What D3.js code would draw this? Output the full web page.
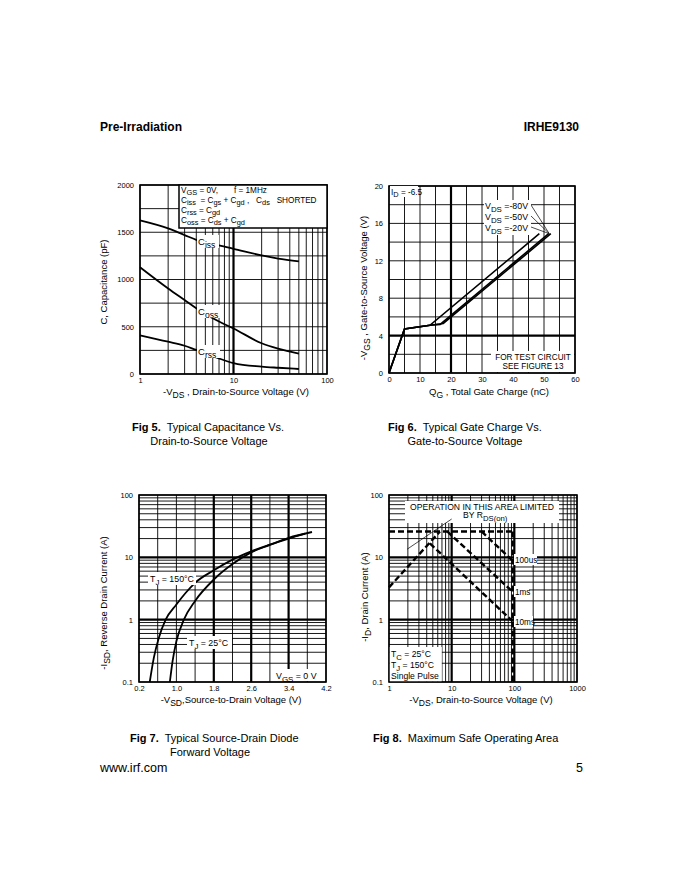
<!DOCTYPE html>
<html>
<head>
<meta charset="utf-8">
<script src="https://cdn.jsdelivr.net/npm/d3@7"></script>
<style>
  body { margin: 0; background: #fff; }
  svg { font-family: "Liberation Sans", Arial, sans-serif; }
  text { white-space: pre; }
</style>
</head>
<body>
<svg id="page" width="680" height="880"></svg>
<script>
// ---- Fig 5: capacitance vs VDS
var capV    = [1, 2, 3, 4, 5, 7, 10, 20, 30, 50];
var capCiss = [1625, 1540, 1470, 1420, 1390, 1360, 1325, 1255, 1222, 1192];
var capCoss = [1130, 905, 782, 695, 635, 555, 482, 325, 268, 215];
var capCrss = [410, 342, 299, 255, 222, 165, 115, 78, 66, 53];
var capXTicks = [1, 10, 100];
var capYTicks = [0, 500, 1000, 1500, 2000];

// ---- Fig 6: gate charge
var gateQ80 = [0, 5, 13.2, 48.5];
var gateV80 = [0, 4.7, 5.1, 14.9];
var gateQ50 = [0, 5, 13.2, 16.5, 51.5];
var gateV50 = [0, 4.7, 5.1, 5.2, 14.9];
var gateQ20 = [0, 5, 13.2, 17.5, 52.2];
var gateV20 = [0, 4.7, 5.1, 5.3, 14.9];
var gateXTicks = [0, 10, 20, 30, 40, 50, 60];
var gateYTicks = [0, 4, 8, 12, 16, 20];

// ---- Fig 7: source-drain diode
var diodeV150 = [0.43, 0.52, 0.62, 0.77, 1.0, 1.2, 1.4, 1.8, 2.2, 2.6, 3.0, 3.4, 3.75];
var diodeI150 = [0.1, 0.25, 0.5, 1.0, 1.75, 2.7, 3.9, 6.2, 9.2, 12.5, 16, 20, 24];
var diodeV25  = [0.86, 0.92, 1.0, 1.16, 1.4, 1.8, 2.2, 2.6, 3.0, 3.4, 3.9];
var diodeI25  = [0.1, 0.22, 0.45, 1.0, 2.0, 4.4, 7.8, 12, 15.8, 20.5, 25.5];
var diodeXTicks = [0.2, 1.0, 1.8, 2.6, 3.4, 4.2];
var diodeYTicks = [0.1, 1, 10, 100];

// ---- Fig 8: safe operating area
var soaRdsV = [1, 6.5],   soaRdsI = [3.3, 26];
var soaIdmV = [1, 94],    soaIdmI = [26, 26];
var soaBvV  = [94, 94],   soaBvI  = [26, 0.1];
var soa100usV = [30, 94], soa100usI = [26, 8.8];
var soa1msV   = [8.5, 94], soa1msI  = [26, 2.8];
var soa10msV  = [4.5, 94], soa10msI = [16.7, 0.94];
var soaXTicks = [1, 10, 100, 1000];
var soaYTicks = [0.1, 1, 10, 100];

var svg = d3.select('#page');

function near(list, d){
  return list.some(function(v){ return Math.abs(v - d) < 1e-6; });
}

// text with subscripts: parts are strings or [string] for subscript
function rich(t, parts, size){
  var down = false;
  parts.forEach(function(p){
    var isSub = typeof p !== 'string';
    var s = t.append('tspan').text(isSub ? p[0] : p);
    if(isSub){
      s.attr('font-size', size * 0.9);
      if(!down){ s.attr('dy', size * 0.3); down = true; }
    } else if(down){
      s.attr('dy', -size * 0.3); down = false;
    }
  });
  return t;
}

function label(g, x, y, parts, size, opts){
  opts = opts || {};
  var t = g.append('text').attr('x', x).attr('y', y)
    .attr('font-size', size).attr('fill', '#000')
    .attr('text-anchor', opts.anchor || 'start');
  if(opts.bold) t.attr('font-weight', 'bold');
  if(opts.rotate) t.attr('transform', 'rotate(-90,' + x + ',' + y + ')');
  return rich(t, parts, size);
}

function whiteBox(g, x, y, w, h, stroke){
  g.append('rect').attr('x', x).attr('y', y).attr('width', w).attr('height', h)
    .attr('fill', '#fff').attr('stroke', stroke ? '#000' : 'none').attr('stroke-width', 1.5);
}

function grid(g, xs, ys, xv, yv, xThick, yThick){
  var y0 = ys.range()[0], y1 = ys.range()[1];
  var x0 = xs.range()[0], x1 = xs.range()[1];
  g.append('g').selectAll('line').data(xv).join('line')
    .attr('x1', xs).attr('x2', xs).attr('y1', y0).attr('y2', y1)
    .attr('stroke', '#000')
    .attr('stroke-width', function(d){ return near(xThick, d) ? 2.2 : 0.9; });
  g.append('g').selectAll('line').data(yv).join('line')
    .attr('y1', ys).attr('y2', ys).attr('x1', x0).attr('x2', x1)
    .attr('stroke', '#000')
    .attr('stroke-width', function(d){ return near(yThick, d) ? 2.2 : 0.9; });
  g.append('rect').attr('x', x0).attr('y', y1).attr('width', x1 - x0).attr('height', y0 - y1)
    .attr('fill', 'none').attr('stroke', '#000').attr('stroke-width', 1.6);
}

function ticks(g, xs, ys, xt, yt, fx, fy){
  var ax = g.append('g').attr('transform', 'translate(0,' + ys.range()[0] + ')')
    .call(d3.axisBottom(xs).tickValues(xt).tickSize(0).tickPadding(4).tickFormat(fx));
  var ay = g.append('g').attr('transform', 'translate(' + xs.range()[0] + ',0)')
    .call(d3.axisLeft(ys).tickValues(yt).tickSize(0).tickPadding(6).tickFormat(fy));
  [ax, ay].forEach(function(a){
    a.select('.domain').remove();
    a.attr('font-family', null).attr('font-size', 7.5);
    a.selectAll('text').attr('fill', '#000');
  });
}

function curve(g, xs, ys, xv, yv, width, smooth, dash){
  var pts = xv.map(function(x, i){ return [x, yv[i]]; });
  var line = d3.line().x(function(d){ return xs(d[0]); }).y(function(d){ return ys(d[1]); });
  if(smooth) line.curve(d3.curveMonotoneX);
  var p = g.append('path').attr('d', line(pts)).attr('fill', 'none')
    .attr('stroke', '#000').attr('stroke-width', width);
  if(dash) p.attr('stroke-dasharray', dash);
  return p;
}

// ---- page header / footer
label(svg, 100, 131, ['Pre-Irradiation'], 12, {bold: true});
label(svg, 579, 131, ['IRHE9130'], 12, {bold: true, anchor: 'end'});
label(svg, 100, 772, ['www.irf.com'], 12.5);
label(svg, 583, 772, ['5'], 12.5, {anchor: 'end'});

function caption(x, y, fig, rest){
  var t = svg.append('text').attr('x', x).attr('y', y).attr('font-size', 11);
  t.append('tspan').attr('font-weight', 'bold').text(fig);
  t.append('tspan').text('  ' + rest);
}

var ANN = 8.8;   // annotation text size
var AXT = 9.5;   // axis title size

// ================= Fig 5
(function(){
  var g = svg.append('g');
  var xs = d3.scaleLog().domain([1, 100]).range([140, 327]);
  var ys = d3.scaleLinear().domain([0, 2000]).range([374, 185]);
  grid(g, xs, ys, xs.ticks(), d3.range(0, 2001, 250), [10], []);
  ticks(g, xs, ys, capXTicks, capYTicks, d3.format('d'), d3.format('d'));

  curve(g, xs, ys, capV, capCiss, 1.8, true);
  curve(g, xs, ys, capV, capCoss, 1.8, true);
  curve(g, xs, ys, capV, capCrss, 1.8, true);

  whiteBox(g, 197, 235, 22, 13);
  label(g, 198, 245, ['C', ['iss']], 9.5);
  whiteBox(g, 197, 305, 25, 13);
  label(g, 198, 315, ['C', ['oss']], 9.5);
  whiteBox(g, 197, 345, 23, 13);
  label(g, 198, 355, ['C', ['rss']], 9.5);

  whiteBox(g, 179, 185, 148, 43, true);
  label(g, 181, 193, ['V', ['GS'], ' = 0V,       f = 1MHz'], 8.2);
  label(g, 181, 203, ['C', ['iss'], '  = C', ['gs'], ' + C', ['gd'], ' ,   C', ['ds'], '   SHORTED'], 8.2);
  label(g, 181, 213, ['C', ['rss'], ' = C', ['gd']], 8.2);
  label(g, 181, 223, ['C', ['oss'], ' = C', ['ds'], ' + C', ['gd']], 8.2);

  label(svg, 107, 282, ['C, Capacitance (pF)'], AXT, {rotate: true, anchor: 'middle'});
  label(svg, 236, 395, ['-V', ['DS'], ' , Drain-to-Source Voltage (V)'], AXT, {anchor: 'middle'});
  caption(132, 431, 'Fig 5.', 'Typical Capacitance Vs.');
  label(svg, 209, 445, ['Drain-to-Source Voltage'], 11, {anchor: 'middle'});
})();

// ================= Fig 6
(function(){
  var g = svg.append('g');
  var xs = d3.scaleLinear().domain([0, 60]).range([389, 575]);
  var ys = d3.scaleLinear().domain([0, 20]).range([373, 186]);
  grid(g, xs, ys, d3.range(0, 61, 5), d3.range(0, 21, 2), [20], [4]);
  ticks(g, xs, ys, gateXTicks, gateYTicks, d3.format('d'), d3.format('d'));

  curve(g, xs, ys, gateQ20, gateV20, 1.6);
  curve(g, xs, ys, gateQ50, gateV50, 1.6);
  curve(g, xs, ys, gateQ80, gateV80, 1.6);

  var tipX = xs(51.7), tipY = ys(14.9);
  [208, 219, 230].forEach(function(y){
    g.append('line').attr('x1', 531).attr('y1', y - 3).attr('x2', tipX).attr('y2', tipY)
      .attr('stroke', '#000').attr('stroke-width', 0.7);
  });
  whiteBox(g, 484, 200, 47, 35);
  label(g, 485, 209, ['V', ['DS'], ' =-80V'], ANN);
  label(g, 485, 220, ['V', ['DS'], ' =-50V'], ANN);
  label(g, 485, 231, ['V', ['DS'], ' =-20V'], ANN);

  whiteBox(g, 390, 186, 28, 11);
  label(g, 391, 195, ['I', ['D'], ' = -6.5'], 8.2);

  whiteBox(g, 491, 351, 83, 21);
  label(g, 533, 360, ['FOR TEST CIRCUIT'], 8.2, {anchor: 'middle'});
  label(g, 533, 369, ['SEE FIGURE 13'], 8.2, {anchor: 'middle'});

  label(svg, 367, 288, ['-V', ['GS'], ' , Gate-to-Source Voltage (V)'], AXT, {rotate: true, anchor: 'middle'});
  label(svg, 489, 395, ['Q', ['G'], ' , Total Gate Charge (nC)'], AXT, {anchor: 'middle'});
  caption(388, 431, 'Fig 6.', 'Typical Gate Charge Vs.');
  label(svg, 465, 445, ['Gate-to-Source Voltage'], 11, {anchor: 'middle'});
})();

// ================= Fig 7
(function(){
  var g = svg.append('g');
  var xs = d3.scaleLinear().domain([0.2, 4.2]).range([139, 326]);
  var ys = d3.scaleLog().domain([0.1, 100]).range([682, 495]);
  grid(g, xs, ys, d3.range(0, 11).map(function(i){ return 0.2 + i * 0.4; }), ys.ticks(), [1.8, 2.6, 3.4], [1, 10]);
  ticks(g, xs, ys, diodeXTicks, diodeYTicks, d3.format('.1f'), function(d){ return String(d); });

  curve(g, xs, ys, diodeV150, diodeI150, 1.8, true);
  curve(g, xs, ys, diodeV25, diodeI25, 1.8, true);

  whiteBox(g, 148, 572, 48, 13);
  label(g, 150, 582, ['T', ['J'], ' = 150\u00b0C'], ANN);
  whiteBox(g, 187, 636, 45, 13);
  label(g, 189, 646, ['T', ['J'], ' = 25\u00b0C'], ANN);
  whiteBox(g, 274, 669, 51, 12);
  label(g, 276, 679, ['V', ['GS'], ' = 0 V'], ANN);

  label(svg, 107, 603, ['-I', ['SD'], ', Reverse Drain Current (A)'], AXT, {rotate: true, anchor: 'middle'});
  label(svg, 231, 703, ['-V', ['SD'], ',Source-to-Drain Voltage (V)'], AXT, {anchor: 'middle'});
  caption(130, 742, 'Fig 7.', 'Typical Source-Drain Diode');
  label(svg, 210, 756, ['Forward Voltage'], 11, {anchor: 'middle'});
})();

// ================= Fig 8
(function(){
  var g = svg.append('g');
  var xs = d3.scaleLog().domain([1, 1000]).range([389, 577]);
  var ys = d3.scaleLog().domain([0.1, 100]).range([682, 495]);
  grid(g, xs, ys, xs.ticks(), ys.ticks(), [10, 100], [1, 10]);
  ticks(g, xs, ys, soaXTicks, soaYTicks, function(d){ return String(d); }, function(d){ return String(d); });

  var dash = '6,3';
  curve(g, xs, ys, soaRdsV, soaRdsI, 2.4, false, dash);
  curve(g, xs, ys, soaIdmV, soaIdmI, 2.4, false, dash);
  curve(g, xs, ys, soaBvV, soaBvI, 2.4, false, dash);
  curve(g, xs, ys, soa100usV, soa100usI, 2.4, false, dash);
  curve(g, xs, ys, soa1msV, soa1msI, 2.4, false, dash);
  curve(g, xs, ys, soa10msV, soa10msI, 2.4, false, dash);

  whiteBox(g, 405, 501, 154, 22);
  label(g, 482, 509.5, ['OPERATION IN THIS AREA LIMITED'], 8.6, {anchor: 'middle'});
  label(g, 463, 518, ['BY R', ['DS(on)']], 8.6);
  g.append('line').attr('x1', xs(10)).attr('y1', 519).attr('x2', xs(1.95)).attr('y2', ys(13.5))
    .attr('stroke', '#000').attr('stroke-width', 0.7);

  whiteBox(g, 514, 554, 23, 11);
  label(g, 515, 563, ['100us'], 8.2);
  whiteBox(g, 514, 586, 15, 11);
  label(g, 515, 595, ['1ms'], 8.2);
  whiteBox(g, 514, 616, 19, 11);
  label(g, 515, 625, ['10ms'], 8.2);

  whiteBox(g, 389.8, 647, 52, 34.2);
  label(g, 391, 657, ['T', ['C'], ' = 25\u00b0C'], 8.6);
  label(g, 391, 668, ['T', ['J'], ' = 150\u00b0C'], 8.6);
  label(g, 391, 679, ['Single Pulse'], 8.6);

  label(svg, 368, 597, ['-I', ['D'], ', Drain Current (A)'], AXT, {rotate: true, anchor: 'middle'});
  label(svg, 481, 703, ['-V', ['DS'], ', Drain-to-Source Voltage (V)'], AXT, {anchor: 'middle'});
  caption(373, 742, 'Fig 8.', 'Maximum Safe Operating Area');
})();
</script>
</body>
</html>
